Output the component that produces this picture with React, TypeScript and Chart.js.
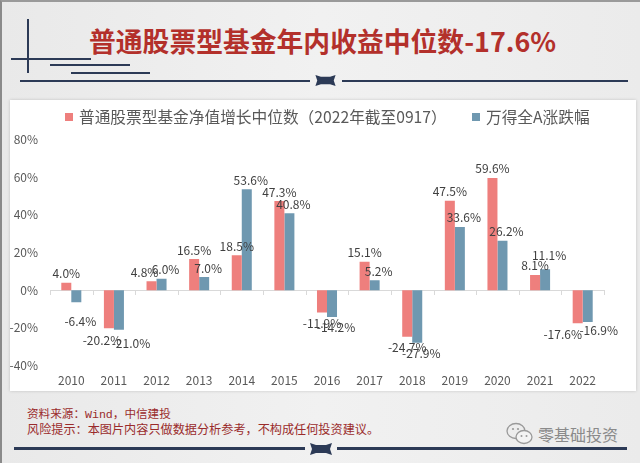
import React, { useEffect, useRef } from "react";
import { Chart, registerables } from "chart.js";

Chart.register(...registerables);

const categories = ["2010", "2011", "2012", "2013", "2014", "2015", "2016", "2017", "2018", "2019", "2020", "2021", "2022"];
const fundMedian = [4.0, -20.2, 4.8, 16.5, 18.5, 47.3, -11.9, 15.1, -24.7, 47.5, 59.6, 8.1, -17.6];
const windAllA = [-6.4, -21.0, 6.0, 7.0, 53.6, 40.8, -14.2, 5.2, -27.9, 33.6, 26.2, 11.1, -16.9];
const seriesNames = ["普通股票型基金净值增长中位数（2022年截至0917）", "万得全A涨跌幅"];
const yMin = -40;
const yMax = 80;
const yStep = 20;

const titleText = "普通股票型基金年内收益中位数-17.6%";
const sourceText = "资料来源：Wind，中信建投";
const riskText = "风险提示：本图片内容只做数据分析参考，不构成任何投资建议。";
const watermark = "零基础投资";

const FONT = "'Noto Sans CJK SC', 'Noto Sans', sans-serif";
const RED = "#EE7F7D";
const BLUE = "#6F98B0";
const NAVY = "#2c3a56";

// manual label nudges (dataset index -> category index -> [dx, dy]), like hand-moved labels in the source
const labelNudges: Record<number, Record<number, [number, number]>> = {
  0: { 1: [-7, 1], 2: [-7, 0], 12: [-15, 0] },
  1: { 0: [0, 8], 1: [8, 3], 11: [0, -5], 12: [7, -3] },
};

const customPlugin = {
  id: "custom",
  beforeDatasetsDraw(chart: any) {
    const { ctx, chartArea, scales } = chart;
    const y0 = scales.y.getPixelForValue(0);
    const n = chart.data.labels.length;
    const w = (chartArea.right - chartArea.left) / n;
    ctx.save();
    ctx.strokeStyle = "#d9d9d9";
    ctx.lineWidth = 1;
    ctx.beginPath();
    ctx.moveTo(chartArea.left, Math.round(y0) + 0.5);
    ctx.lineTo(chartArea.right, Math.round(y0) + 0.5);
    for (let i = 0; i <= n; i++) {
      const x = Math.round(chartArea.left + i * w) + 0.5;
      ctx.moveTo(x, Math.round(y0));
      ctx.lineTo(x, Math.round(y0) + 5);
    }
    ctx.stroke();
    ctx.restore();
  },
  afterDatasetsDraw(chart: any) {
    const { ctx } = chart;
    ctx.save();
    ctx.font = `12px ${FONT}`;
    ctx.fillStyle = "#404040";
    ctx.textAlign = "center";
    ctx.textBaseline = "middle";
    chart.data.datasets.forEach((ds: any, di: number) => {
      const meta = chart.getDatasetMeta(di);
      meta.data.forEach((bar: any, i: number) => {
        const v = ds.data[i];
        const txt = v.toFixed(1) + "%";
        const nudge = (labelNudges[di] && labelNudges[di][i]) || [0, 0];
        const baseDx = di === 1 ? 4 : 0;
        const y = (v >= 0 ? bar.y - 9 : bar.y + 11) + nudge[1];
        ctx.fillText(txt, bar.x + baseDx + nudge[0], y);
      });
    });
    // legend
    ctx.font = `15.7px ${FONT}`;
    ctx.textAlign = "left";
    const legendX = [55, 462];
    chart.data.datasets.forEach((ds: any, di: number) => {
      const x = legendX[di];
      ctx.fillStyle = ds.backgroundColor;
      ctx.fillRect(x, 13, 8, 8);
      ctx.fillStyle = "#595959";
      ctx.fillText(ds.label, x + 14, 17.5);
    });
    ctx.restore();
  },
};

function ChartPanel() {
  const ref = useRef<HTMLCanvasElement>(null);
  useEffect(() => {
    if (!ref.current) return;
    Chart.defaults.font.family = FONT;
    const chart = new Chart(ref.current, {
      type: "bar",
      data: {
        labels: categories,
        datasets: [
          { label: seriesNames[0], data: fundMedian, backgroundColor: RED, categoryPercentage: 0.47, barPercentage: 1 },
          { label: seriesNames[1], data: windAllA, backgroundColor: BLUE, categoryPercentage: 0.47, barPercentage: 1 },
        ],
      },
      options: {
        responsive: false,
        animation: false,
        devicePixelRatio: 1,
        layout: { padding: { top: 39.5, left: 0, right: 32, bottom: 0 } },
        plugins: { legend: { display: false }, tooltip: { enabled: false } },
        scales: {
          x: {
            grid: { display: false, drawTicks: false },
            border: { display: false },
            ticks: { color: "#595959", font: { size: 12 }, padding: 8, maxRotation: 0 },
            afterFit: (s: any) => { s.height = 25.5; },
          },
          y: {
            min: yMin,
            max: yMax,
            grid: { display: false, drawTicks: false },
            border: { display: false },
            ticks: {
              stepSize: yStep,
              color: "#595959",
              font: { size: 12 },
              padding: 12,
              callback: (v: any) => `${v}%`,
            },
            afterFit: (s: any) => { s.width = 40; },
          },
        },
      },
      plugins: [customPlugin],
    });
    return () => chart.destroy();
  }, []);
  return <canvas ref={ref} width={626} height={291} style={{ width: 626, height: 291, display: "block" }} />;
}

function Bowtie({ left, top, w, h }: { left: number; top: number; w: number; h: number }) {
  return (
    <svg style={{ position: "absolute", left, top }} width={w} height={h} viewBox="0 0 22 12">
      <polygon points="0,0 6,2 16,2 22,0 20,6 22,12 16,10 6,10 0,12 2,6" fill={NAVY} />
    </svg>
  );
}

function Line({ x, y, w, h }: { x: number; y: number; w: number; h: number }) {
  return <div style={{ position: "absolute", left: x, top: y, width: w, height: h, background: NAVY }} />;
}

export default function App() {
  return (
    <div
      style={{
        position: "absolute",
        left: 0,
        top: 0,
        width: 640,
        height: 463,
        overflow: "hidden",
        background: "linear-gradient(90deg, #e9e9e9, #f1f1f1 50%, #ebebeb)",
        fontFamily: FONT,
        boxSizing: "border-box",
        borderLeft: "2px solid #8a8a8a",
        borderTop: "2px solid #9a9a9a",
      }}
    >
      {/* top decoration */}
      <Line x={25} y={17} w={2} h={54} />
      <Line x={9} y={56} w={80} h={2} />
      <Line x={48} y={62} w={80} h={2} />
      <Line x={69} y={70} w={79} h={2} />
      <Line x={18} y={78} w={290} h={2} />
      <Bowtie left={312} top={73} w={23} h={11} />
      <Line x={340} y={78} w={286} h={2} />

      <div
        style={{
          position: "absolute",
          left: 87,
          top: 22,
          fontSize: 26.8,
          fontWeight: 700,
          color: "#b3302b",
          whiteSpace: "nowrap",
          lineHeight: "34px",
        }}
      >
        {titleText}
      </div>

      {/* chart panel */}
      <div
        style={{
          position: "absolute",
          left: 8,
          top: 98,
          width: 626,
          height: 291,
          background: "#ffffff",
          boxShadow: "0 0 3px rgba(0,0,0,0.18)",
        }}
      >
        <ChartPanel />
      </div>

      {/* footer */}
      <div
        style={{
          position: "absolute",
          left: 25,
          top: 405,
          lineHeight: "16px",
          color: "#9a2b2b",
          whiteSpace: "nowrap",
          fontFamily: "'Liberation Mono', 'Noto Sans CJK SC', monospace",
        }}
      >
        <div style={{ fontSize: 11.6 }}>{sourceText}</div>
        <div style={{ fontSize: 12.15 }}>{riskText}</div>
      </div>

      <svg style={{ position: "absolute", left: 504, top: 420 }} width={28} height={24} viewBox="0 0 28 24">
        <ellipse cx="10" cy="9" rx="9" ry="7.5" fill="none" stroke="#9a9a9a" strokeWidth="1.3" />
        <ellipse cx="18" cy="15" rx="8" ry="6.5" fill="#f3f3f3" stroke="#9a9a9a" strokeWidth="1.3" />
        <circle cx="7" cy="7" r="1.1" fill="#9a9a9a" />
        <circle cx="12" cy="7" r="1.1" fill="#9a9a9a" />
        <circle cx="15.5" cy="14" r="1" fill="#9a9a9a" />
        <circle cx="20.5" cy="14" r="1" fill="#9a9a9a" />
      </svg>
      <div
        style={{
          position: "absolute",
          left: 536,
          top: 421,
          fontSize: 16,
          lineHeight: "22px",
          color: "#8a8a8a",
          whiteSpace: "nowrap",
        }}
      >
        {watermark}
      </div>

      <Line x={12} y={445} w={291} h={3} />
      <Bowtie left={308} top={441} w={22} h={12} />
      <Line x={335} y={445} w={290} h={3} />
    </div>
  );
}
